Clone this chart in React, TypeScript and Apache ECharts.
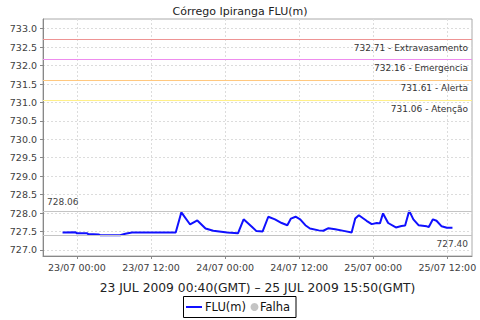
import React, { useEffect, useRef } from "react";
import * as echarts from "echarts";

const chartTitle = "Córrego Ipiranga FLU(m)";
const xAxisTitle = "23 JUL 2009 00:40(GMT) – 25 JUL 2009 15:50(GMT)";
const seriesName = "FLU(m)";
const failName = "Falha";

// local time (GMT-3)
const times = [
  "2009-07-22 21:40", "2009-07-22 23:45", "2009-07-23 00:00", "2009-07-23 01:40",
  "2009-07-23 01:50", "2009-07-23 03:30", "2009-07-23 03:45", "2009-07-23 07:00",
  "2009-07-23 07:50", "2009-07-23 08:55", "2009-07-23 16:00", "2009-07-23 16:55",
  "2009-07-23 18:20", "2009-07-23 19:30", "2009-07-23 20:50", "2009-07-23 22:05",
  "2009-07-24 00:20", "2009-07-24 02:05", "2009-07-24 03:00", "2009-07-24 04:20",
  "2009-07-24 05:05", "2009-07-24 06:05", "2009-07-24 07:00", "2009-07-24 08:05",
  "2009-07-24 09:10", "2009-07-24 10:05", "2009-07-24 10:40", "2009-07-24 11:25",
  "2009-07-24 12:10", "2009-07-24 13:00", "2009-07-24 13:45", "2009-07-24 15:10",
  "2009-07-24 15:55", "2009-07-24 16:45", "2009-07-24 17:50", "2009-07-24 19:25",
  "2009-07-24 20:30", "2009-07-24 21:05", "2009-07-24 21:40", "2009-07-24 22:55",
  "2009-07-24 23:45", "2009-07-25 00:35", "2009-07-25 01:05", "2009-07-25 01:35",
  "2009-07-25 02:25", "2009-07-25 03:40", "2009-07-25 04:35", "2009-07-25 05:10",
  "2009-07-25 05:50", "2009-07-25 06:30", "2009-07-25 07:20", "2009-07-25 08:40",
  "2009-07-25 09:00", "2009-07-25 09:40", "2009-07-25 10:15", "2009-07-25 11:05",
  "2009-07-25 11:55", "2009-07-25 12:50",
];
const levels = [
  727.47, 727.48, 727.45, 727.45,
  727.43, 727.42, 727.40, 727.40,
  727.44, 727.47, 727.47, 728.02,
  727.69, 727.80, 727.58, 727.52,
  727.47, 727.45, 727.83, 727.63,
  727.51, 727.50, 727.90, 727.83,
  727.73, 727.67, 727.85, 727.90,
  727.83, 727.67, 727.58, 727.53,
  727.52, 727.59, 727.56, 727.51,
  727.47, 727.85, 727.94, 727.79,
  727.70, 727.73, 727.72, 727.99,
  727.73, 727.61, 727.65, 727.66,
  728.06, 727.83, 727.67, 727.64,
  727.62, 727.83, 727.79, 727.64,
  727.60, 727.60,
];

const thresholdValues = [732.71, 732.16, 731.61, 731.06];
const thresholdNames = ["Extravasamento", "Emergencia", "Alerta", "Atenção"];
const thresholdColors = ["#ee9494", "#ee8cee", "#ffc880", "#fff08a"];
const maxLevel = 728.06;
const minLevel = 727.40;

const yTicks = [727.0, 727.5, 728.0, 728.5, 729.0, 729.5, 730.0, 730.5, 731.0, 731.5, 732.0, 732.5, 733.0];
const yMin = 726.835;
const yMax = 733.263;
const xTicks = ["2009-07-23 00:00", "2009-07-23 12:00", "2009-07-24 00:00", "2009-07-24 12:00", "2009-07-25 00:00", "2009-07-25 12:00"];
const xMinStr = "2009-07-22 18:30";
const xMaxStr = "2009-07-25 16:00";

const parseT = (s: string) => {
  const [d, t] = s.split(" ");
  const [Y, M, D] = d.split("-").map(Number);
  const [h, m] = t.split(":").map(Number);
  return Date.UTC(Y, M - 1, D, h, m);
};
const pad = (n: number) => (n < 10 ? "0" + n : "" + n);
const fmtX = (v: number) => {
  const d = new Date(v);
  return `${pad(d.getUTCDate())}/${pad(d.getUTCMonth() + 1)} ${pad(d.getUTCHours())}:${pad(d.getUTCMinutes())}`;
};

const FONT = "DejaVu Sans";

export default function App() {
  const ref = useRef<HTMLDivElement>(null);
  useEffect(() => {
    if (!ref.current) return;
    const chart = echarts.init(ref.current, undefined, { renderer: "svg" });
    const data = times.map((t, i) => [parseT(t), levels[i]]);
    const markData: any[] = thresholdValues.map((v, i) => ({
      yAxis: v,
      lineStyle: { color: thresholdColors[i], width: 1, type: "solid" },
      label: {
        show: true,
        position: "insideEndBottom",
        formatter: `${v.toFixed(2)} - ${thresholdNames[i]}`,
        color: "#333",
        fontSize: 9,
        fontFamily: FONT,
        distance: 4,
      },
    }));
    markData.push({
      yAxis: maxLevel,
      lineStyle: { color: "#c4c4c4", width: 1, type: "solid" },
      label: {
        show: true,
        position: "insideStartTop",
        formatter: maxLevel.toFixed(2),
        color: "#444",
        fontSize: 9,
        fontFamily: FONT,
        distance: 4,
      },
    });
    markData.push({
      yAxis: minLevel,
      lineStyle: { color: "#c4c4c4", width: 1, type: "solid" },
      label: {
        show: true,
        position: "insideEndBottom",
        formatter: minLevel.toFixed(2),
        color: "#444",
        fontSize: 9,
        fontFamily: FONT,
        distance: 4,
      },
    });

    chart.setOption({
      animation: false,
      useUTC: true,
      backgroundColor: "#fff",
      title: {
        text: chartTitle,
        left: "center",
        top: 1,
        textStyle: { fontFamily: FONT, fontSize: 11, fontWeight: "normal", color: "#222" },
      },
      grid: {
        left: 43, right: 8, top: 19, bottom: 64,
        show: true, borderColor: "#aaa", borderWidth: 1, backgroundColor: "#fff",
      },
      xAxis: {
        type: "value",
        min: parseT(xMinStr),
        max: parseT(xMaxStr),
        name: xAxisTitle,
        nameLocation: "middle",
        nameGap: 26,
        nameTextStyle: { fontFamily: FONT, fontSize: 12.3, color: "#222" },
        axisLine: { show: true, lineStyle: { color: "#888" } },
        axisTick: { show: true, length: 3, lineStyle: { color: "#888" }, customValues: xTicks.map(parseT) },
        axisLabel: {
          customValues: xTicks.map(parseT),
          formatter: (v: number) => fmtX(v),
          fontFamily: FONT, fontSize: 9.5, color: "#404040", margin: 6,
        },
        splitLine: { show: true, lineStyle: { color: "#dcdcdc", type: [2, 2] } },
      },
      yAxis: {
        type: "value",
        min: yMin,
        max: yMax,
        axisLine: { show: true, lineStyle: { color: "#888" } },
        axisTick: { show: true, length: 3, lineStyle: { color: "#888" }, customValues: yTicks },
        axisLabel: {
          customValues: yTicks,
          formatter: (v: number) => v.toFixed(1),
          fontFamily: FONT, fontSize: 9.5, color: "#404040", margin: 6,
        },
        splitLine: { show: true, lineStyle: { color: "#dcdcdc", type: [2, 2] } },
      },
      series: [
        {
          name: seriesName,
          type: "line",
          data,
          showSymbol: false,
          lineStyle: { color: "#1010ff", width: 2 },
          itemStyle: { color: "#1010ff" },
          markLine: { silent: true, symbol: ["none", "none"], data: markData },
        },
      ],
      graphic: [
        { type: "rect", shape: { x: 183.5, y: 296.5, width: 112.5, height: 21 }, style: { fill: "#fff", stroke: "#000", lineWidth: 1 } },
        { type: "line", shape: { x1: 186, y1: 307, x2: 202, y2: 307 }, style: { stroke: "#1010ff", lineWidth: 2 } },
        { type: "text", x: 205, y: 307, style: { text: seriesName, fontFamily: FONT, fontSize: 11.5, fill: "#111", verticalAlign: "middle" } },
        { type: "circle", shape: { cx: 254.5, cy: 307, r: 4 }, style: { fill: "#c4c4c4" } },
        { type: "text", x: 260, y: 307, style: { text: failName, fontFamily: FONT, fontSize: 11.5, fill: "#111", verticalAlign: "middle" } },
      ],
    });
    return () => chart.dispose();
  }, []);
  return <div ref={ref} style={{ position: "fixed", left: 0, top: 0, width: 480, height: 320 }} />;
}
